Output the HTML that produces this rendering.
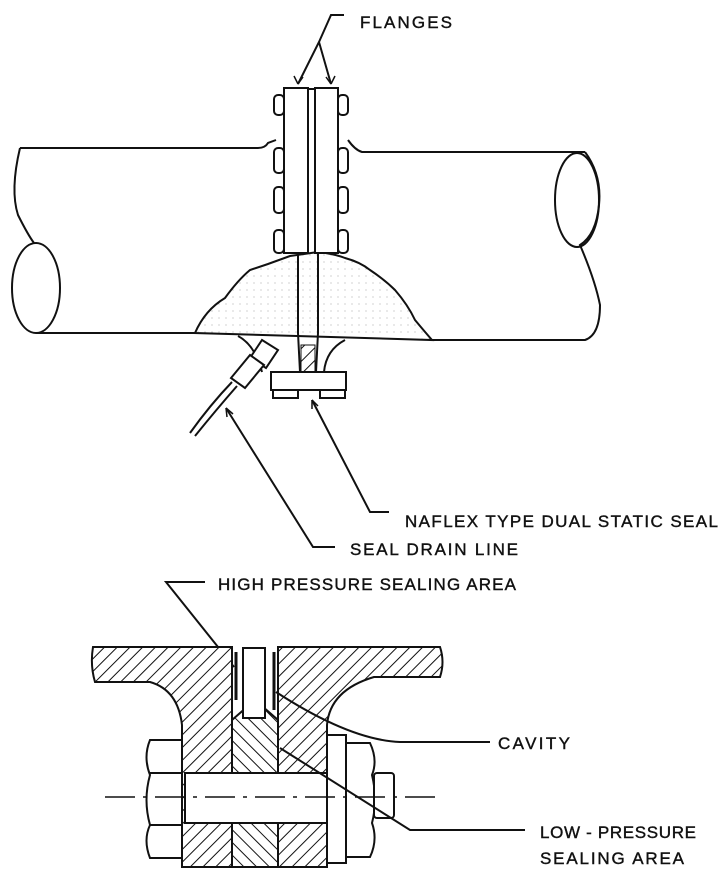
<!DOCTYPE html>
<html><head><meta charset="utf-8"><style>
html,body{margin:0;padding:0;background:#fff;}
svg{display:block;}
text{font-family:"Liberation Sans",sans-serif;font-size:17px;fill:#111;}
</style></head><body>
<svg width="725" height="879" viewBox="0 0 725 879" xmlns="http://www.w3.org/2000/svg">
<defs>
<pattern id="h1" width="9" height="9" patternUnits="userSpaceOnUse" patternTransform="rotate(45)">
<rect width="9" height="9" fill="#fff"/><line x1="0" y1="0" x2="0" y2="9" stroke="#111" stroke-width="2"/></pattern>
<pattern id="h2" width="9" height="9" patternUnits="userSpaceOnUse" patternTransform="rotate(-45)">
<rect width="9" height="9" fill="#fff"/><line x1="0" y1="0" x2="0" y2="9" stroke="#111" stroke-width="2"/></pattern>
<pattern id="dots" width="7" height="7" patternUnits="userSpaceOnUse">
<rect width="7" height="7" fill="#fff"/><circle cx="2" cy="3" r="0.5" fill="#888"/></pattern>
</defs>
<g fill="none" stroke="#111" stroke-width="2">
<!-- FLANGES leader -->
<text x="360" y="28" stroke="#111" stroke-width="0.4" textLength="92">FLANGES</text>
<path d="M344 15 H331 L319 42 L298 84 M319 42 L331 84"/>
<path d="M298 84 l-4 -8 M298 84 l5 -7 M331 84 l-5 -7 M331 84 l4 -8" stroke-width="1.5"/>
<!-- pipe -->
<path d="M20 148 H258 Q265 148 268 143 L276 140"/>
<path d="M348 140 Q355 150 362 152 H585"/>
<path d="M20 148 Q10 190 18 215 Q28 235 34 243"/>
<ellipse cx="36" cy="288" rx="24" ry="45"/>
<path d="M36 333 H195"/>
<path d="M585 152 Q602 175 599 205 Q596 235 580 245 Q595 280 600 305 Q600 335 585 340 H432"/>
<ellipse cx="577" cy="200" rx="22" ry="47"/>
<!-- weld mound -->
<path d="M195 333 Q205 310 225 298 Q238 280 250 270 L268 264 L290 256 L318 252 Q335 254 345 258 Q360 262 370 270 Q385 280 395 290 Q408 305 415 320 Q425 332 432 340 Z" fill="url(#dots)"/>
<!-- flanges -->
<rect x="284" y="88" width="24" height="165" fill="#fff"/>
<rect x="315" y="88" width="23" height="165" fill="#fff"/>
<line x1="308" y1="89" x2="315" y2="89"/>
<rect x="274" y="95" width="10" height="20" rx="4"/><rect x="274" y="148" width="10" height="25" rx="4"/><rect x="274" y="187" width="10" height="26" rx="4"/><rect x="274" y="230" width="10" height="23" rx="4"/>
<rect x="338" y="95" width="10" height="20" rx="4"/><rect x="338" y="148" width="10" height="25" rx="4"/><rect x="338" y="187" width="10" height="26" rx="4"/><rect x="338" y="230" width="10" height="23" rx="4"/>
<line x1="298" y1="253" x2="298" y2="333"/><line x1="318" y1="253" x2="318" y2="333"/>
<!-- stub below -->
<path d="M238 336 Q255 345 262 372 M345 340 Q326 350 324 372"/>
<path d="M298 333 L300 372 M318 333 L316 372"/>
<rect x="301" y="345" width="14" height="27" fill="url(#h1)" stroke-width="1"/>
<rect x="271" y="372" width="75" height="18" fill="#fff"/>
<rect x="273" y="390" width="25" height="8"/><rect x="320" y="390" width="25" height="8"/>
<!-- drain fitting -->
<path d="M262 340 L278 350 L266 368 L250 358 Z" fill="#fff"/>
<path d="M250 355 L264 365 L245 388 L231 378 Z" fill="#fff"/>
<path d="M232 382 Q210 405 190 433 M237 386 Q216 410 195 436"/>
<!-- leaders -->
<path d="M226 408 L313 547 H335"/>
<text x="350" y="555" stroke="#111" stroke-width="0.4" textLength="168">SEAL DRAIN LINE</text>
<path d="M312 400 L370 512 H389"/>
<text x="405" y="527" stroke="#111" stroke-width="0.4" textLength="313">NAFLEX TYPE DUAL STATIC SEAL</text>
<path d="M226 408 l1 9 M226 408 l7 6 M312 400 l0 9 M312 400 l6 6" stroke-width="1.5"/>
<!-- bottom section -->
<text x="218" y="590" stroke="#111" stroke-width="0.4" textLength="298">HIGH PRESSURE SEALING AREA</text>
<path d="M205 582 H166 L234 667"/>
<!-- nuts -->
<path d="M150 740 H185 V858 H150 Q143 840 150 825 Q143 800 150 775 Q143 757 150 740 Z" fill="#fff"/>
<line x1="150" y1="773" x2="185" y2="773"/><line x1="150" y1="825" x2="185" y2="825"/>
<rect x="327" y="735" width="19" height="128" fill="#fff"/>
<path d="M346 743 H370 Q378 760 372 775 Q378 800 372 823 Q378 840 370 857 H346 Z" fill="#fff"/>
<rect x="374" y="773" width="20" height="45" rx="3" fill="#fff"/>
<!-- body -->
<path d="M93 647 H232 V867 H182 V725 Q178 690 150 682 H95 Q90 665 93 647 Z" fill="url(#h1)"/>
<path d="M278 647 H440 Q445 662 440 677 H374 Q330 690 327 725 V867 H278 Z" fill="url(#h1)"/>
<path d="M232 720 L255 700 L278 720 V867 H232 Z" fill="url(#h2)"/>
<path d="M236 652 V700 M274 652 V710" stroke-width="3"/>
<rect x="243" y="648" width="22" height="70" fill="#fff"/>
<rect x="185" y="773" width="142" height="50" fill="#fff"/>
<path d="M105 797 H435" stroke-width="1.5" stroke-dasharray="30 8 4 8"/>
<!-- cavity / low pressure leaders -->
<path d="M276 692 Q350 740 400 742 H490"/>
<text x="498" y="749" stroke="#111" stroke-width="0.4" textLength="72">CAVITY</text>
<path d="M280 748 L410 830 H525"/>
<text x="540" y="838" stroke="#111" stroke-width="0.4" textLength="156">LOW - PRESSURE</text>
<text x="540" y="864" stroke="#111" stroke-width="0.4" textLength="144">SEALING AREA</text>
</g>
</svg>
</body></html>
